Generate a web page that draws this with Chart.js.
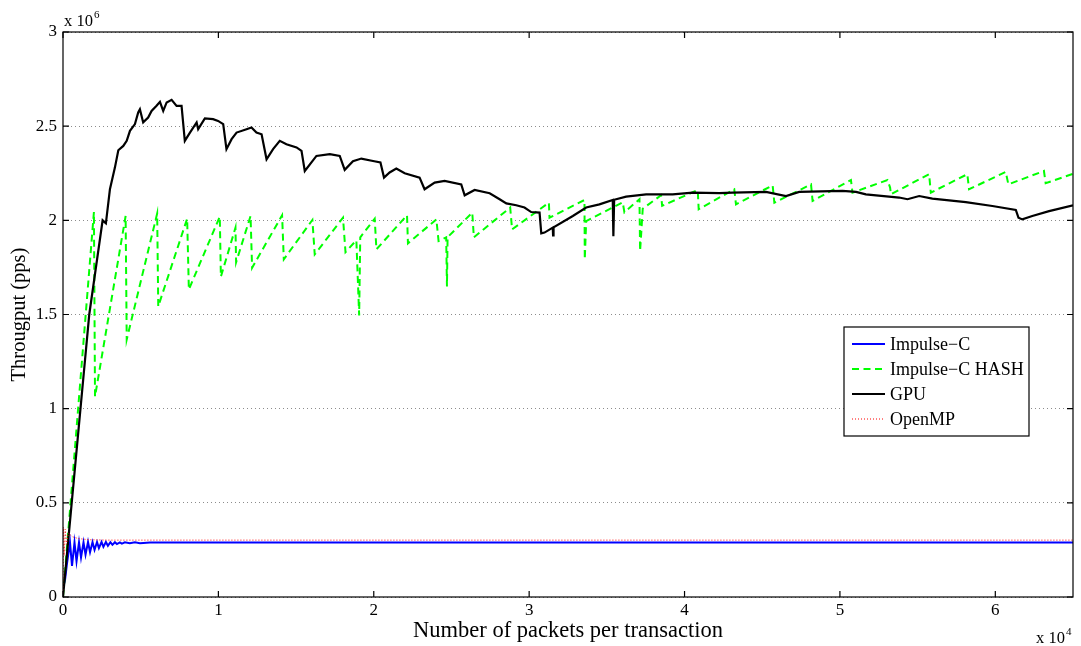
<!DOCTYPE html>
<html>
<head>
<meta charset="utf-8">
<script src="https://cdn.jsdelivr.net/npm/chart.js@4.4.1/dist/chart.umd.min.js"></script>
<style>
  html, body { margin: 0; padding: 0; background: #fff; }
  #wrap { width: 1081px; height: 646px; }
</style>
</head>
<body>
<div id="wrap"><canvas id="chart" width="1081" height="646"></canvas></div>
<script>
// Axis ticks (x in units of 10^4 packets, y in units of 10^6 pps)
const xTicks = [0, 1, 2, 3, 4, 5, 6];
const yTicks = [0, 0.5, 1, 1.5, 2, 2.5, 3];
const xExponent = '4';
const yExponent = '6';

const seriesLabels = ['Impulse\u2212C', 'Impulse\u2212C HASH', 'GPU', 'OpenMP'];

// Impulse-C (blue)
const impulseX = [0, 0.013, 0.026, 0.045, 0.058, 0.074, 0.087, 0.103, 0.116, 0.132,
  0.145, 0.161, 0.174, 0.19, 0.203, 0.219, 0.231, 0.248, 0.26, 0.276,
  0.289, 0.305, 0.318, 0.334, 0.347, 0.366, 0.379, 0.398, 0.43, 0.463,
  0.495, 0.56, 6.5];
const impulseY = [0.05, 0.09, 0.18, 0.29, 0.165, 0.29, 0.19, 0.29, 0.21, 0.29,
  0.225, 0.292, 0.238, 0.292, 0.25, 0.292, 0.26, 0.292, 0.266, 0.292,
  0.272, 0.291, 0.277, 0.291, 0.281, 0.29, 0.283, 0.29, 0.285, 0.29,
  0.286, 0.289, 0.289];

// Impulse-C HASH (green dashed)
const hashX = [0, 0.199, 0.206, 0.403, 0.41, 0.606, 0.613, 0.799, 0.81, 1.009,
  1.016, 1.11, 1.114, 1.207, 1.217, 1.41, 1.421, 1.605, 1.62, 1.802,
  1.818, 1.888, 1.906, 1.913, 2.006, 2.017, 2.214, 2.22, 2.403, 2.417,
  2.466, 2.471, 2.475, 2.634, 2.644, 2.878, 2.89, 3.127, 3.131, 3.356,
  3.358, 3.367, 3.602, 3.613, 3.71, 3.714, 3.731, 3.849, 3.856, 4.085,
  4.091, 4.32, 4.331, 4.567, 4.578, 4.814, 4.824, 5.071, 5.081, 5.306,
  5.323, 5.328, 5.574, 5.585, 5.82, 5.831, 6.067, 6.084, 6.313, 6.324, 6.5];
const hashY = [0, 2.044, 1.064, 2.023, 1.367, 2.036, 1.543, 2.009, 1.633, 2.02,
  1.701, 1.961, 1.777, 2.023, 1.748, 2.027, 1.793, 2.002, 1.819, 2.014,
  1.831, 1.894, 1.495, 1.91, 2.009, 1.846, 2.027, 1.878, 2.005, 1.89,
  1.91, 1.649, 1.91, 2.041, 1.91, 2.068, 1.952, 2.094, 2.014, 2.108,
  1.793, 1.996, 2.096, 2.043, 2.112, 1.837, 2.062, 2.133, 2.077, 2.161,
  2.059, 2.165, 2.085, 2.186, 2.094, 2.191, 2.103, 2.214, 2.147, 2.214,
  2.174, 2.138, 2.245, 2.147, 2.245, 2.165, 2.257, 2.191, 2.262, 2.197, 2.247];

// GPU (black)
const gpuX = [0, 0.056, 0.169, 0.255, 0.276, 0.302, 0.334, 0.356, 0.388, 0.41,
  0.431, 0.463, 0.484, 0.495, 0.516, 0.548, 0.57, 0.602, 0.624, 0.645,
  0.667, 0.699, 0.731, 0.763, 0.784, 0.817, 0.86, 0.87, 0.913, 0.966,
  0.998, 1.031, 1.052, 1.085, 1.117, 1.181, 1.213, 1.245, 1.278, 1.31,
  1.352, 1.395, 1.438, 1.503, 1.535, 1.556, 1.631, 1.717, 1.781, 1.813,
  1.866, 1.92, 1.995, 2.043, 2.066, 2.102, 2.145, 2.199, 2.295, 2.327,
  2.392, 2.456, 2.563, 2.585, 2.649, 2.746, 2.81, 2.853, 2.917, 2.97,
  3.013, 3.067, 3.078, 3.099, 3.152, 3.154, 3.157, 3.281, 3.367, 3.452,
  3.538, 3.542, 3.547, 3.624, 3.753, 3.924, 4.052, 4.224, 4.31, 4.524,
  4.653, 4.738, 5.017, 5.103, 5.167, 5.381, 5.435, 5.51, 5.595, 5.81,
  5.981, 6.132, 6.149, 6.174, 6.238, 6.346, 6.5];
const gpuY = [0, 0.5, 1.5, 2.0, 1.984, 2.165, 2.28, 2.372, 2.395, 2.422,
  2.475, 2.511, 2.573, 2.59, 2.52, 2.546, 2.581, 2.608, 2.629, 2.581,
  2.626, 2.64, 2.608, 2.608, 2.422, 2.466, 2.52, 2.484, 2.541, 2.537,
  2.528, 2.511, 2.378, 2.431, 2.466, 2.484, 2.493, 2.466, 2.457, 2.324,
  2.378, 2.422, 2.404, 2.387, 2.369, 2.262, 2.342, 2.351, 2.342, 2.268,
  2.314, 2.328, 2.315, 2.307, 2.227, 2.254, 2.275, 2.25, 2.227, 2.165,
  2.2, 2.209, 2.191, 2.133, 2.161, 2.144, 2.112, 2.09, 2.08, 2.068,
  2.044, 2.041, 1.931, 1.935, 1.961, 1.92, 1.963, 2.023, 2.068, 2.085,
  2.108, 1.916, 2.109, 2.126, 2.138, 2.138, 2.147, 2.144, 2.147, 2.151,
  2.129, 2.151, 2.156, 2.151, 2.138, 2.121, 2.112, 2.129, 2.115, 2.097,
  2.076, 2.055, 2.014, 2.005, 2.023, 2.049, 2.08];

// OpenMP (red dotted)
const openmpX = [0, 0.003, 0.008, 0.014, 0.022, 0.035, 0.06, 0.1, 0.17, 0.3, 6.5];
const openmpY = [0.02, 0.37, 0.22, 0.36, 0.28, 0.34, 0.32, 0.31, 0.304, 0.302, 0.302];

const SERIF = '"Liberation Serif", "DejaVu Serif", serif';

function toPoints(xs, ys) {
  return xs.map((x, i) => ({ x, y: ys[i] }));
}

// Box around the axes, inward tick marks and the "x 10^n" labels
const framePlugin = {
  id: 'frame',
  afterDatasetsDraw(chart) {
    const { ctx, chartArea: a, scales: { x, y } } = chart;
    ctx.save();
    ctx.strokeStyle = '#000';
    ctx.lineWidth = 1.2;
    ctx.strokeRect(a.left, a.top, a.right - a.left, a.bottom - a.top);
    ctx.beginPath();
    xTicks.forEach(v => {
      const px = x.getPixelForValue(v);
      ctx.moveTo(px, a.bottom); ctx.lineTo(px, a.bottom - 6);
      ctx.moveTo(px, a.top); ctx.lineTo(px, a.top + 6);
    });
    yTicks.forEach(v => {
      const py = y.getPixelForValue(v);
      ctx.moveTo(a.left, py); ctx.lineTo(a.left + 6, py);
      ctx.moveTo(a.right, py); ctx.lineTo(a.right - 6, py);
    });
    ctx.stroke();

    ctx.fillStyle = '#000';
    ctx.textBaseline = 'alphabetic';
    ctx.textAlign = 'left';
    ctx.font = '16.5px ' + SERIF;
    ctx.fillText('x 10', a.left + 1, a.top - 6);
    const w6 = ctx.measureText('x 10').width;
    ctx.font = '11px ' + SERIF;
    ctx.fillText(yExponent, a.left + 2 + w6, a.top - 14);

    ctx.font = '16.5px ' + SERIF;
    ctx.fillText('x 10', 1036, 643);
    const w4 = ctx.measureText('x 10').width;
    ctx.font = '11px ' + SERIF;
    ctx.fillText(xExponent, 1037 + w4, 635);
    ctx.restore();
  }
};

// Legend box inside the plot
const legendPlugin = {
  id: 'boxLegend',
  afterDraw(chart) {
    const { ctx } = chart;
    const box = { left: 844, top: 327, right: 1029, bottom: 436 };
    ctx.save();
    ctx.fillStyle = '#fff';
    ctx.fillRect(box.left, box.top, box.right - box.left, box.bottom - box.top);
    ctx.strokeStyle = '#000';
    ctx.lineWidth = 1.2;
    ctx.strokeRect(box.left, box.top, box.right - box.left, box.bottom - box.top);
    ctx.font = '18px ' + SERIF;
    ctx.textBaseline = 'middle';
    ctx.textAlign = 'left';
    chart.data.datasets.forEach((ds, i) => {
      const yy = 344 + i * 25;
      ctx.beginPath();
      ctx.strokeStyle = ds.borderColor;
      ctx.lineWidth = ds.borderWidth;
      ctx.setLineDash(ds.borderDash || []);
      ctx.moveTo(852, yy);
      ctx.lineTo(885, yy);
      ctx.stroke();
      ctx.setLineDash([]);
      ctx.fillStyle = '#000';
      ctx.fillText(ds.label, 890, yy + 1);
    });
    ctx.restore();
  }
};

new Chart(document.getElementById('chart'), {
  type: 'line',
  data: {
    datasets: [
      {
        label: seriesLabels[0],
        data: toPoints(impulseX, impulseY),
        borderColor: '#0000ff',
        borderWidth: 2,
        order: 4
      },
      {
        label: seriesLabels[1],
        data: toPoints(hashX, hashY),
        borderColor: '#00ff00',
        borderWidth: 2,
        borderDash: [7, 4.5],
        order: 3
      },
      {
        label: seriesLabels[2],
        data: toPoints(gpuX, gpuY),
        borderColor: '#000000',
        borderWidth: 2.2,
        order: 2
      },
      {
        label: seriesLabels[3],
        data: toPoints(openmpX, openmpY),
        borderColor: '#ff0000',
        borderWidth: 1,
        borderDash: [1, 2],
        order: 1
      }
    ]
  },
  options: {
    responsive: false,
    animation: false,
    devicePixelRatio: 1,
    layout: { padding: { top: 32, right: 8, left: 0, bottom: 0 } },
    elements: {
      point: { radius: 0, hoverRadius: 0 },
      line: { tension: 0, fill: false, borderCapStyle: 'butt', borderJoinStyle: 'miter' }
    },
    plugins: {
      legend: { display: false },
      tooltip: { enabled: false }
    },
    scales: {
      x: {
        type: 'linear',
        min: 0,
        max: 6.5,
        afterBuildTicks: scale => { scale.ticks = xTicks.map(v => ({ value: v })); },
        afterFit: scale => { scale.height = 49; },
        grid: { display: false, drawTicks: false },
        border: { display: false },
        ticks: {
          color: '#000',
          font: { family: SERIF, size: 17 },
          padding: 3,
          maxRotation: 0,
          callback: v => String(v)
        },
        title: {
          display: true,
          text: 'Number of packets per transaction',
          color: '#000',
          font: { family: SERIF, size: 22.5 },
          padding: { top: 0, bottom: 1 }
        }
      },
      y: {
        type: 'linear',
        min: 0,
        max: 3,
        afterBuildTicks: scale => { scale.ticks = yTicks.map(v => ({ value: v })); },
        afterFit: scale => { scale.width = 63; },
        grid: { color: '#8c8c8c', lineWidth: 1, drawTicks: false },
        border: { display: false, dash: [1, 3] },
        ticks: {
          color: '#000',
          font: { family: SERIF, size: 17 },
          padding: 6,
          callback: v => String(v)
        },
        title: {
          display: true,
          text: 'Througput (pps)',
          color: '#000',
          font: { family: SERIF, size: 20.5 },
          padding: { top: 7, bottom: 0 }
        }
      }
    }
  },
  plugins: [framePlugin, legendPlugin]
});
</script>
</body>
</html>
